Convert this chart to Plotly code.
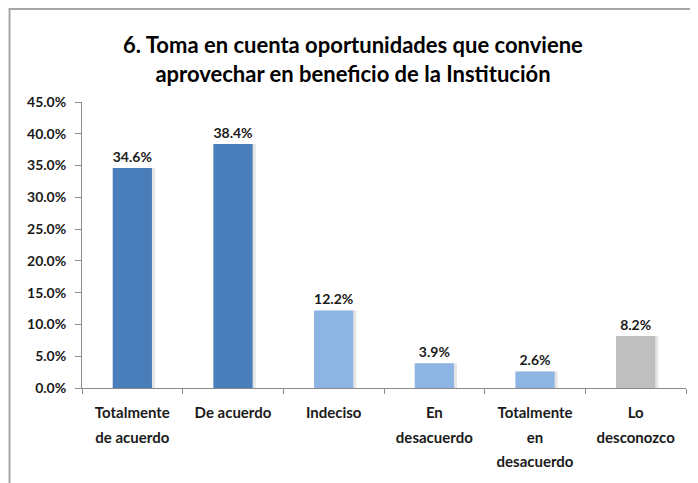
import plotly.graph_objects as go

# data
categories = ["Totalmente<br>de acuerdo", "De acuerdo", "Indeciso",
              "En<br>desacuerdo", "Totalmente<br>en<br>desacuerdo", "Lo<br>desconozco"]
values = [34.6, 38.4, 12.2, 3.9, 2.6, 8.2]
bar_colors = ["#4a7ebb", "#4a7ebb", "#8eb4e3", "#8eb4e3", "#8eb4e3", "#bfbfbf"]
y_ticks = [0, 5, 10, 15, 20, 25, 30, 35, 40, 45]

FONT = "Lato, Roboto, sans-serif"

fig = go.Figure()

# soft shadow behind each bar (Excel look)
fig.add_trace(go.Bar(
    x=categories, y=values, width=0.39, offset=-0.165,
    marker=dict(color="rgba(180,180,180,0.35)", line=dict(width=0)),
    hoverinfo="skip", showlegend=False,
))

fig.add_trace(go.Bar(
    x=categories, y=values, width=0.39, offset=-0.195,
    marker=dict(color=bar_colors, line=dict(width=0)),
    texttemplate="<b>%{y:.1f}%</b>", textposition="outside", cliponaxis=False,
    textfont=dict(family=FONT, size=14, color="#1a1a1a"),
    showlegend=False,
))

# x labels: bigger base size gives the wide line spacing, span keeps glyphs small
span = '<span style="font-size:15px">'
xlabels = ["<b>" + span + c.replace("<br>", "</span><br>" + span) + "</span></b>" for c in categories]

fig.update_layout(
    width=690, height=475,
    barmode="overlay",
    paper_bgcolor="white", plot_bgcolor="white",
    margin=dict(l=74, r=12, t=94, b=95),
    title=dict(
        text="<b>6. Toma en cuenta oportunidades que conviene<br>aprovechar en beneficio de la Institución</b>",
        x=0.5, xanchor="center", y=0.905, yanchor="top",
        font=dict(family=FONT, size=22, color="#000000"),
    ),
    xaxis=dict(
        tickvals=categories, ticktext=xlabels,
        showline=True, linecolor="#8c8c8c", linewidth=1,
        ticks="outside", ticklen=5, tickcolor="#8c8c8c", tickson="boundaries",
        ticklabelstandoff=6,
        tickfont=dict(family=FONT, size=19, color="#1a1a1a"),
        showgrid=False,
    ),
    yaxis=dict(
        range=[0, 45], tickvals=y_ticks,
        ticktext=["<b>%.1f%%</b>" % v for v in y_ticks],
        showline=True, linecolor="#8c8c8c", linewidth=1,
        ticks="outside", ticklen=6, tickcolor="#8c8c8c", ticklabelstandoff=6,
        tickfont=dict(family=FONT, size=14, color="#1a1a1a"),
        showgrid=False, zeroline=False,
    ),
)

# chart area frame (top and left edges visible)
fig.add_shape(type="rect", xref="paper", yref="paper",
              x0=-0.12, x1=1.2, y0=-0.5, y1=1.325,
              line=dict(color="#a6a6a6", width=2), layer="below")

fig.write_html("out.html")
